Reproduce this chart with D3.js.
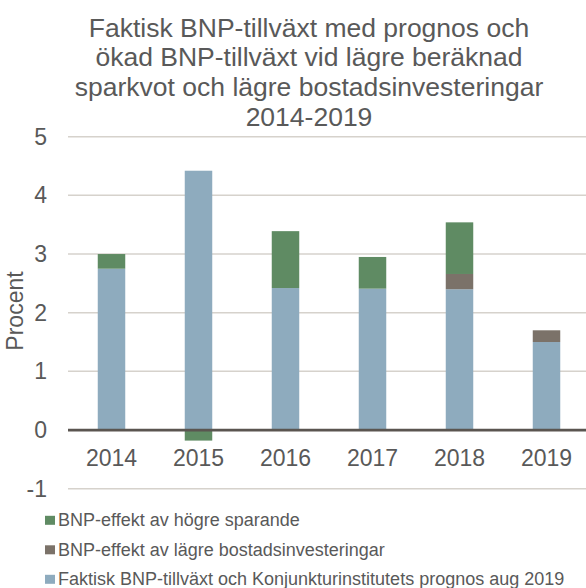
<!DOCTYPE html>
<html>
<head>
<meta charset="utf-8">
<script src="https://cdn.jsdelivr.net/npm/d3@7"></script>
<style>
  body { margin: 0; background: #fff; }
  svg { display: block; font-family: "Liberation Sans", Arial, sans-serif; }
</style>
</head>
<body>
<div id="chart"></div>
<script>
// data
const years = ["2014", "2015", "2016", "2017", "2018", "2019"];
const faktisk = [2.75, 4.42, 2.42, 2.41, 2.40, 1.50];
const bostad = [0, 0, 0, 0, 0.26, 0.20];
const sparande = [0.25, -0.18, 0.97, 0.54, 0.88, 0];
const yTicks = [-1, 0, 1, 2, 3, 4, 5];

const titleLines = [
  "Faktisk BNP-tillväxt med prognos och",
  "ökad BNP-tillväxt vid lägre beräknad",
  "sparkvot och lägre bostadsinvesteringar",
  "2014-2019"
];
const seriesNames = {
  sparande: "BNP-effekt av högre sparande",
  bostad: "BNP-effekt av lägre bostadsinvesteringar",
  faktisk: "Faktisk BNP-tillväxt och Konjunkturinstitutets prognos aug 2019"
};
const colors = { faktisk: "#8eabbe", bostad: "#7b7269", sparande: "#5f8b63" };

const width = 586, height = 588;
const textColor = "#595959";

const svg = d3.select("#chart").append("svg").attr("width", width).attr("height", height);

const x = d3.scaleBand().domain(years).range([68, 590]).paddingInner(0.684).paddingOuter(0.342);
const y = d3.scaleLinear().domain([-1, 5]).range([488.7, 136.7]);

// title
svg.append("g").selectAll("text").data(titleLines).enter().append("text")
  .attr("x", 309).attr("y", (d, i) => 36.6 + i * 29.7)
  .attr("text-anchor", "middle").attr("font-size", 26.5).attr("fill", textColor)
  .text(d => d);

// gridlines
svg.append("g").selectAll("line").data(yTicks.filter(d => d !== 0)).enter().append("line")
  .attr("x1", 68).attr("x2", width).attr("y1", d => y(d)).attr("y2", d => y(d))
  .attr("stroke", "#d6d2cc").attr("stroke-width", 1.5);

// y labels
svg.append("g").selectAll("text").data(yTicks).enter().append("text")
  .attr("x", 47).attr("y", d => y(d)).attr("dy", "0.35em")
  .attr("text-anchor", "end").attr("font-size", 23).attr("fill", textColor)
  .text(d => d);

svg.append("text")
  .attr("transform", "translate(23,311) rotate(-90)")
  .attr("text-anchor", "middle").attr("font-size", 23).attr("fill", textColor)
  .text("Procent");

// stacked bars
const rows = years.map((yr, i) => ({ year: yr, faktisk: faktisk[i], bostad: bostad[i], sparande: sparande[i] }));
const stack = d3.stack().keys(["faktisk", "bostad", "sparande"]).offset(d3.stackOffsetDiverging);
const layers = stack(rows);

svg.append("g").selectAll("g").data(layers).enter().append("g")
  .attr("fill", d => colors[d.key])
  .selectAll("rect").data(d => d).enter().append("rect")
  .attr("x", d => x(d.data.year))
  .attr("width", x.bandwidth())
  .attr("y", d => y(Math.max(d[0], d[1])))
  .attr("height", d => Math.abs(y(d[0]) - y(d[1])));

// zero line
svg.append("line")
  .attr("x1", 68).attr("x2", width).attr("y1", y(0)).attr("y2", y(0))
  .attr("stroke", "#5a5550").attr("stroke-width", 2.7);

// x labels
svg.append("g").selectAll("text").data(years).enter().append("text")
  .attr("x", d => x(d) + x.bandwidth() / 2).attr("y", 466)
  .attr("text-anchor", "middle").attr("font-size", 23).attr("fill", textColor)
  .text(d => d);

// legend
const legendKeys = ["sparande", "bostad", "faktisk"];
const leg = svg.append("g").selectAll("g").data(legendKeys).enter().append("g")
  .attr("transform", (d, i) => "translate(45," + (520.3 + i * 29.5) + ")");
leg.append("rect").attr("x", 0).attr("y", -4.5).attr("width", 10).attr("height", 9)
  .attr("fill", d => colors[d]);
leg.append("text").attr("x", 13).attr("dy", "0.34em")
  .attr("font-size", 18).attr("fill", textColor)
  .text(d => seriesNames[d]);
</script>
</body>
</html>
